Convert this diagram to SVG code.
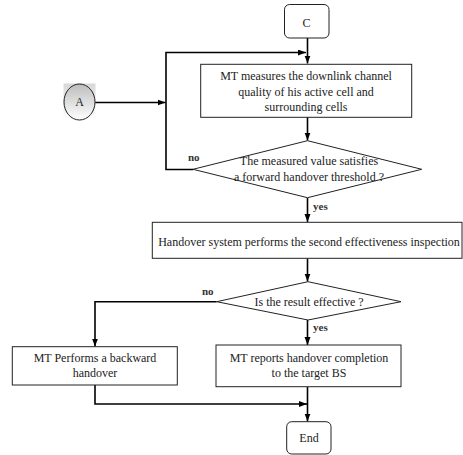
<svg xmlns="http://www.w3.org/2000/svg" width="463" height="455" viewBox="0 0 463 455">
<style>
.box{fill:#fff;stroke:#222;stroke-width:1}
.t{font-family:"Liberation Serif","Times New Roman",serif;font-size:12px;fill:#222;text-anchor:middle}
.lbl{font-family:"Liberation Serif","Times New Roman",serif;font-size:11px;font-weight:bold;fill:#333}
.c{fill:none;stroke:#000;stroke-width:1.6}
</style>
<defs>
<marker id="ah" markerUnits="userSpaceOnUse" markerWidth="9" markerHeight="7" refX="8" refY="3" orient="auto">
<path d="M0,0 L8,3 L0,6 z" fill="#000"/>
</marker>
<linearGradient id="g" x1="0" y1="0" x2="0" y2="1">
<stop offset="0" stop-color="#bdbdbd"/>
<stop offset="1" stop-color="#ffffff"/>
</linearGradient>
</defs>
<rect width="463" height="455" fill="#fff"/>
<g id="connectors">
<path class="c" d="M307.5,38 V63.5" marker-end="url(#ah)"/>
<path class="c" d="M193,169.5 H166 V52.5 H306" marker-end="url(#ah)"/>
<path class="c" d="M95,102.5 H165.5" marker-end="url(#ah)"/>
<path class="c" d="M307.5,117 V140.5" marker-end="url(#ah)"/>
<path class="c" d="M307.5,198 V222" marker-end="url(#ah)"/>
<path class="c" d="M307.5,258.5 V281.5" marker-end="url(#ah)"/>
<path class="c" d="M216.7,301.7 H95 V346.5" marker-end="url(#ah)"/>
<path class="c" d="M307.5,320 V345" marker-end="url(#ah)"/>
<path class="c" d="M95,385 V404 H307" marker-end="url(#ah)"/>
<path class="c" d="M307.5,386.7 V421.5" marker-end="url(#ah)"/>
</g>
<g id="nodeC">
<rect class="box" x="284.5" y="4.5" width="44.5" height="33.5" rx="5"/>
<text class="t" x="306.5" y="27" font-size="13">C</text>
</g>
<g id="nodeA">
<rect x="63.5" y="83.5" width="32" height="36.5" fill="url(#g)" opacity="0.6"/>
<ellipse cx="79.5" cy="102" rx="15.5" ry="18" fill="url(#g)" stroke="#222" stroke-width="1"/>
<text class="t" x="79.5" y="106">A</text>
</g>
<g id="measure">
<rect class="box" x="200.7" y="64.3" width="211" height="53"/>
<text class="t" x="306" y="80">MT measures the downlink channel</text>
<text class="t" x="306" y="95.5">quality of his active cell and</text>
<text class="t" x="306" y="111">surrounding cells</text>
</g>
<g id="decision1">
<polygon class="box" points="307.5,140.7 421.7,169.3 307.5,197.7 193,169.3"/>
<text class="t" x="309" y="165">The measured  value satisfies</text>
<text class="t" x="309" y="180.5">a forward handover threshold ?</text>
<text class="lbl" x="188" y="161">no</text>
<text class="lbl" x="313" y="210">yes</text>
</g>
<g id="inspection">
<rect class="box" x="152.3" y="222.3" width="309.7" height="36"/>
<text class="t" x="309" y="245.5">Handover system performs the second effectiveness inspection</text>
</g>
<g id="decision2">
<polygon class="box" points="308,281.7 401,301.7 308,320 216.7,301.7"/>
<text class="t" x="309" y="305.5">Is the result effective ?</text>
<text class="lbl" x="202" y="295">no</text>
<text class="lbl" x="313" y="331">yes</text>
</g>
<g id="backward">
<rect class="box" x="12.3" y="346.7" width="165" height="38.3"/>
<text class="t" x="95" y="361.5">MT Performs a backward</text>
<text class="t" x="95" y="377">handover</text>
</g>
<g id="report">
<rect class="box" x="216" y="345" width="185" height="41.7"/>
<text class="t" x="309" y="361.5">MT reports handover completion</text>
<text class="t" x="309" y="377">to the target BS</text>
</g>
<g id="end">
<rect class="box" x="286.7" y="421.7" width="44.3" height="32.3" rx="5"/>
<text class="t" x="309" y="442">End</text>
</g>
</svg>
